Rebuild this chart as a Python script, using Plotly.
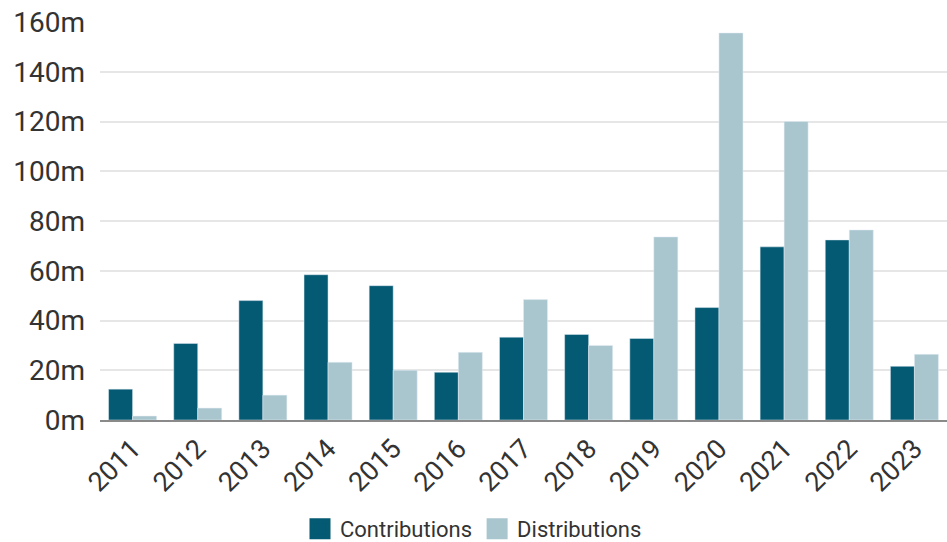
import plotly.graph_objects as go

years = ["2011", "2012", "2013", "2014", "2015", "2016", "2017",
         "2018", "2019", "2020", "2021", "2022", "2023"]
contributions = [12.4, 30.8, 48.0, 58.4, 54.0, 19.2, 33.3,
                 34.4, 32.8, 45.2, 69.6, 72.4, 21.6]
distributions = [1.6, 4.8, 10.0, 23.2, 20.0, 27.2, 48.4,
                 30.0, 73.6, 155.6, 120.0, 76.4, 26.4]
y_ticks = [0, 20, 40, 60, 80, 100, 120, 140, 160]
y_tick_labels = [f"{v}m" for v in y_ticks]

C_DARK = "#035a72"
C_LIGHT = "#a9c6ce"
FONT = "Roboto"
TXT = "#333333"

fig = go.Figure()
fig.add_trace(go.Bar(x=years, y=contributions, name="Contributions",
                     marker_color=C_DARK, showlegend=False))
fig.add_trace(go.Bar(x=years, y=distributions, name="Distributions",
                     marker_color=C_LIGHT, showlegend=False))
# legend entries with larger swatches
for name, col in [("Contributions", C_DARK), ("Distributions", C_LIGHT)]:
    fig.add_trace(go.Scatter(x=[None], y=[None], mode="markers", name=name,
                             marker=dict(symbol="square", size=16, color=col,
                                         line=dict(color=col, width=5))))

fig.update_layout(
    width=947, height=542,
    margin=dict(l=100, r=0, t=22, b=122, autoexpand=False),
    paper_bgcolor="white", plot_bgcolor="white",
    barmode="group", bargap=0.263, bargroupgap=0,
    font=dict(family=FONT, color=TXT),
    showlegend=True,
    legend=dict(orientation="h", xref="container", yref="container",
                x=0.5, xanchor="center", y=0.024, yanchor="middle",
                font=dict(size=22, family=FONT, color=TXT),
                itemclick=False),
)
fig.update_xaxes(type="category", tickangle=-45, automargin=False,
                 tickfont=dict(size=27, family=FONT, color=TXT),
                 showline=True, linecolor="#8a8a8a", linewidth=2,
                 showgrid=False, ticks="")
fig.update_yaxes(range=[0, 160], tickvals=y_ticks, ticktext=y_tick_labels,
                 automargin=False,
                 tickfont=dict(size=28, family=FONT, color=TXT),
                 showgrid=True, gridcolor="#e6e6e6", gridwidth=2,
                 zeroline=False, showline=False, ticks="",
                 ticklabelstandoff=14)

fig.write_html("out.html",
               config={"displayModeBar": False},
               post_script="document.body.style.margin='0';document.body.style.overflow='hidden';")
